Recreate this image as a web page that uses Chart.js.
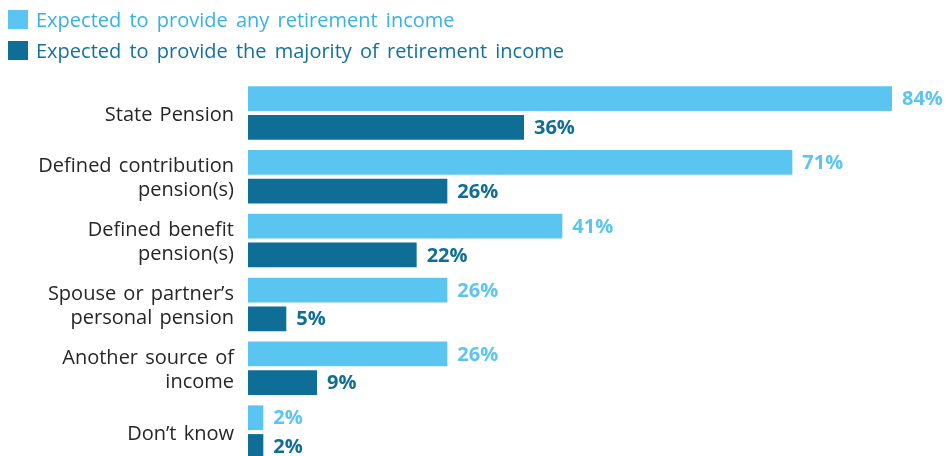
<!DOCTYPE html>
<html>
<head>
<meta charset="utf-8">
<script src="https://cdn.jsdelivr.net/npm/chart.js@4"></script>
<style>
    html, body { margin: 0; padding: 0; background: #ffffff; overflow: hidden; }
    #area { position: relative; width: 948px; height: 490px; }
    #legenda { position: absolute; left: 8px; top: 4px; font-family: "Open Sans", sans-serif; font-size: 20px; }
    .item { display: flex; align-items: center; height: 31px; word-spacing: 3px; }
    .quadrado { width: 20px; height: 19px; margin-right: 8px; }
    canvas { position: absolute; left: 0; top: 0; }
</style>
</head>
<body>
<div id="area">
    <canvas id="grafico" width="948" height="490"></canvas>
    <div id="legenda"></div>
</div>
<script>
var categorias = [
    'State Pension',
    ['Defined contribution', 'pension(s)'],
    ['Defined benefit', 'pension(s)'],
    ['Spouse or partner\u2019s', 'personal pension'],
    ['Another source of', 'income'],
    'Don\u2019t know'
];
var qualquerRenda = [84, 71, 41, 26, 26, 2];
var maioriaRenda = [36, 26, 22, 5, 9, 2];
var nomesSeries = [
    'Expected to provide any retirement income',
    'Expected to provide the majority of retirement income'
];

var corClara = '#5bc5f2';
var corEscura = '#0e6e96';
var coresTexto = ['#35b2e7', '#17709a'];

// legenda feita em html, um item por linha
var legenda = document.getElementById('legenda');
var coresQuadrado = [corClara, corEscura];
for (var i = 0; i < nomesSeries.length; i++) {
    var item = document.createElement('div');
    item.className = 'item';
    var quadrado = document.createElement('div');
    quadrado.className = 'quadrado';
    quadrado.style.background = coresQuadrado[i];
    var texto = document.createElement('span');
    texto.style.color = coresTexto[i];
    texto.innerHTML = nomesSeries[i];
    item.appendChild(quadrado);
    item.appendChild(texto);
    legenda.appendChild(item);
}

// espaco entre palavras um pouco maior, como no original
var espacoPalavras = {
    id: 'espacoPalavras',
    beforeDraw: function (chart) {
        chart.ctx.wordSpacing = '2px';
    }
};

// escreve o valor no fim de cada barra
var rotulosValor = {
    id: 'rotulosValor',
    afterDatasetsDraw: function (chart) {
        var ctx = chart.ctx;
        ctx.save();
        ctx.font = 'bold 20px "Open Sans", sans-serif';
        ctx.textBaseline = 'middle';
        ctx.textAlign = 'left';
        chart.data.datasets.forEach(function (ds, d) {
            var meta = chart.getDatasetMeta(d);
            ctx.fillStyle = ds.backgroundColor;
            meta.data.forEach(function (barra, j) {
                ctx.fillText(ds.data[j] + '%', barra.x + 10, barra.y + 1);
            });
        });
        ctx.restore();
    }
};

var config = {
    type: 'bar',
    data: {
        labels: categorias,
        datasets: [{
            label: nomesSeries[0],
            data: qualquerRenda,
            backgroundColor: corClara,
            categoryPercentage: 0.9,
            barPercentage: 0.86
        }, {
            label: nomesSeries[1],
            data: maioriaRenda,
            backgroundColor: corEscura,
            categoryPercentage: 0.9,
            barPercentage: 0.86
        }]
    },
    options: {
        indexAxis: 'y',
        responsive: false,
        animation: false,
        layout: { padding: { top: 81, right: 10, bottom: 1.5, left: 0 } },
        plugins: {
            legend: { display: false },
            tooltip: { enabled: false }
        },
        scales: {
            x: {
                display: false,
                min: 0,
                max: 90
            },
            y: {
                grid: { display: false, drawTicks: false },
                border: { display: false },
                afterFit: function (escala) { escala.width = 248; },
                ticks: {
                    padding: 14,
                    labelOffset: 2,
                    color: '#262626',
                    font: { family: '"Open Sans", sans-serif', size: 20, lineHeight: 1.2 }
                }
            }
        }
    },
    plugins: [espacoPalavras, rotulosValor]
};

window.grafico = new Chart(document.getElementById('grafico').getContext('2d'), config);
</script>
</body>
</html>
